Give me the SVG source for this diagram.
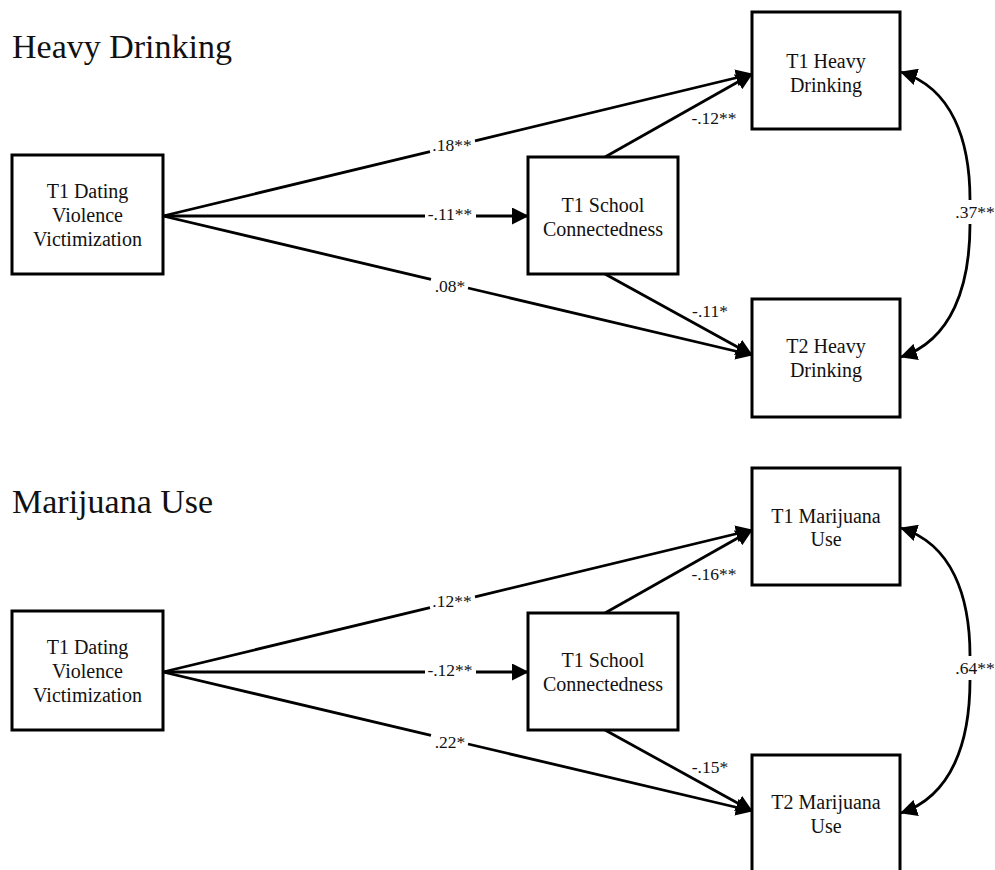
<svg xmlns="http://www.w3.org/2000/svg" width="995" height="870" viewBox="0 0 995 870" font-family="'Liberation Serif', 'Times New Roman', serif">
<style>
  text { font-family: "Liberation Serif", "Times New Roman", serif; fill: #111; }
  .title { font-size: 34px; }
  .node rect { fill: #fff; stroke: #000; stroke-width: 3; }
  .node text { font-size: 20px; text-anchor: middle; }
  .conn path, .conn line { fill: none; stroke: #000; stroke-width: 2.8; }
  .lbl { font-size: 17.5px; text-anchor: middle; }
</style>
<defs>
  <marker id="ah" markerUnits="userSpaceOnUse" viewBox="0 0 17 17" markerWidth="17" markerHeight="17" refX="16" refY="8.5" orient="auto">
    <path d="M0,0 L17,8.5 L0,17 z" fill="#000"/>
  </marker>
</defs>
<rect width="995" height="870" fill="#fff"/>

<!-- Panel 1: Heavy Drinking -->
<g id="panel-heavy-drinking">
  <text class="title" x="12" y="58">Heavy Drinking</text>
  <g id="connectors-hd" class="conn">
    <line x1="163" y1="216" x2="430" y2="151.6"/>
    <line x1="475" y1="140.8" x2="752" y2="74" marker-end="url(#ah)"/>
    <line x1="163" y1="216" x2="425" y2="216"/>
    <line x1="476" y1="216" x2="528" y2="216" marker-end="url(#ah)"/>
    <line x1="163" y1="216" x2="431" y2="279.3"/>
    <line x1="468" y1="288" x2="752" y2="355" marker-end="url(#ah)"/>
    <line x1="605" y1="157" x2="752" y2="74" marker-end="url(#ah)"/>
    <line x1="605" y1="274" x2="752" y2="355" marker-end="url(#ah)"/>
    <path d="M970,200 C970,140 952,88 901,72" marker-end="url(#ah)"/>
    <path d="M970,224 C970,286 952,340 901,357" marker-end="url(#ah)"/>
    <text class="lbl" x="452" y="151">.18**</text>
    <text class="lbl" x="450" y="220">-.11**</text>
    <text class="lbl" x="450" y="292">.08*</text>
    <text class="lbl" x="714" y="124">-.12**</text>
    <text class="lbl" x="710" y="317">-.11*</text>
    <text class="lbl" x="975" y="218">.37**</text>
  </g>
  <g id="hd-dvv" class="node">
    <rect x="12" y="155" width="151" height="119"/>
    <text x="87.5" y="198">T1 Dating</text>
    <text x="87.5" y="222">Violence</text>
    <text x="87.5" y="246">Victimization</text>
  </g>
  <g id="hd-school" class="node">
    <rect x="528" y="157" width="150" height="117"/>
    <text x="603" y="212">T1 School</text>
    <text x="603" y="236">Connectedness</text>
  </g>
  <g id="hd-t1" class="node">
    <rect x="752" y="12" width="148" height="117"/>
    <text x="826" y="68">T1 Heavy</text>
    <text x="826" y="92">Drinking</text>
  </g>
  <g id="hd-t2" class="node">
    <rect x="752" y="299" width="148" height="118"/>
    <text x="826" y="353">T2 Heavy</text>
    <text x="826" y="377">Drinking</text>
  </g>
</g>

<!-- Panel 2: Marijuana Use -->
<g id="panel-marijuana" transform="translate(0,456)">
  <text class="title" x="12" y="57">Marijuana Use</text>
  <g id="connectors-mj" class="conn">
    <line x1="163" y1="216" x2="430" y2="151.6"/>
    <line x1="475" y1="140.8" x2="752" y2="74" marker-end="url(#ah)"/>
    <line x1="163" y1="216" x2="425" y2="216"/>
    <line x1="476" y1="216" x2="528" y2="216" marker-end="url(#ah)"/>
    <line x1="163" y1="216" x2="431" y2="279.3"/>
    <line x1="468" y1="288" x2="752" y2="355" marker-end="url(#ah)"/>
    <line x1="605" y1="157" x2="752" y2="74" marker-end="url(#ah)"/>
    <line x1="605" y1="274" x2="752" y2="355" marker-end="url(#ah)"/>
    <path d="M970,200 C970,140 952,88 901,72" marker-end="url(#ah)"/>
    <path d="M970,224 C970,286 952,340 901,357" marker-end="url(#ah)"/>
    <text class="lbl" x="452" y="151">.12**</text>
    <text class="lbl" x="450" y="220">-.12**</text>
    <text class="lbl" x="450" y="292">.22*</text>
    <text class="lbl" x="714" y="124">-.16**</text>
    <text class="lbl" x="710" y="317">-.15*</text>
    <text class="lbl" x="975" y="218">.64**</text>
  </g>
  <g id="mj-dvv" class="node">
    <rect x="12" y="155" width="151" height="119"/>
    <text x="87.5" y="198">T1 Dating</text>
    <text x="87.5" y="222">Violence</text>
    <text x="87.5" y="246">Victimization</text>
  </g>
  <g id="mj-school" class="node">
    <rect x="528" y="157" width="150" height="117"/>
    <text x="603" y="211">T1 School</text>
    <text x="603" y="235">Connectedness</text>
  </g>
  <g id="mj-t1" class="node">
    <rect x="752" y="12" width="148" height="117"/>
    <text x="826" y="67">T1 Marijuana</text>
    <text x="826" y="90">Use</text>
  </g>
  <g id="mj-t2" class="node">
    <rect x="752" y="299" width="148" height="120"/>
    <text x="826" y="353">T2 Marijuana</text>
    <text x="826" y="377">Use</text>
  </g>
</g>
</svg>
